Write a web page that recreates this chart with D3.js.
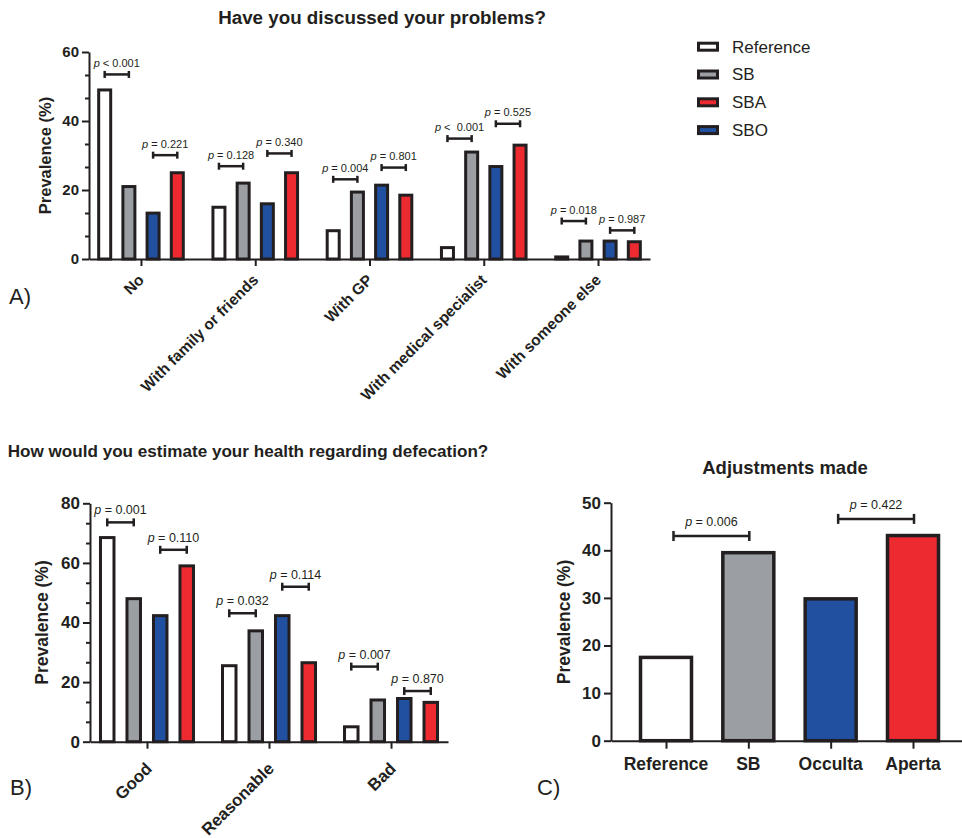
<!DOCTYPE html>
<html><head><meta charset="utf-8">
<script src="https://cdn.jsdelivr.net/npm/d3@7"></script>
<style>
body{margin:0;background:#fff}
text{font-family:"Liberation Sans",Arial,Helvetica,sans-serif;fill:#231f20;white-space:pre}
</style>
</head><body><svg id="c" width="962" height="838"></svg>
<script>
// ---------- data ----------
const seriesKeys = ["Reference","SB","SBO","SBA"];      // bar order inside a group
const legendOrder = ["Reference","SB","SBA","SBO"];
const seriesColors = {Reference:"#ffffff", SB:"#9b9ea2", SBO:"#2150a0", SBA:"#ec2a2f"};

const catsA = ["No","With family or friends","With GP","With medical specialist","With someone else"];
const refA = [49.0, 15.0, 8.2, 3.3, 0.6];
const sbA  = [21.0, 22.0, 19.4, 31.0, 5.2];
const sboA = [13.3, 16.0, 21.4, 26.8, 5.2];
const sbaA = [25.0, 25.0, 18.5, 33.0, 5.0];
const pTextA = ["< 0.001","= 0.221","= 0.128","= 0.340","= 0.004","= 0.801","<  0.001","= 0.525","= 0.018","= 0.987"];
const pYA = [53.5, 30.1, 26.9, 30.6, 23.1, 26.5, 34.9, 39.2, 11.0, 8.3];
const ticksA = [0, 20, 40, 60];

const catsB = ["Good","Reasonable","Bad"];
const refB = [68.5, 25.5, 5.0];
const sbB  = [48.0, 37.2, 14.0];
const sboB = [42.3, 42.3, 14.5];
const sbaB = [59.0, 26.5, 13.2];
const pTextB = ["= 0.001","= 0.110","= 0.032","= 0.114","= 0.007","= 0.870"];
const pYB = [73.6, 64.4, 43.1, 52.0, 25.2, 17.0];
const ticksB = [0, 20, 40, 60, 80];

const catsC = ["Reference","SB","Occulta","Aperta"];
const valsC = [17.5, 39.5, 29.8, 43.1];
const colorsC = ["#ffffff","#9b9ea2","#2150a0","#ec2a2f"];
const pTextC = ["= 0.006","= 0.422"];
const pYC = [43.0, 46.6];
const ticksC = [0, 10, 20, 30, 40, 50];

// ---------- drawing ----------
const INK = "#231f20";
const svg = d3.select("#c");
svg.append("rect").attr("width",962).attr("height",838).attr("fill","#fff");

function styleAxis(sel, fs){
  sel.select(".domain").attr("stroke",INK).attr("stroke-width",2);
  sel.selectAll(".tick line").attr("stroke",INK).attr("stroke-width",2);
  sel.selectAll(".tick text").attr("fill",INK).style("font-size",fs+"px").style("font-weight","bold")
     .style("font-family",'"Liberation Sans",Arial,sans-serif');
}

function pLabel(g, x, y, txt, fs){
  const t = g.append("text").attr("x",x).attr("y",y).attr("text-anchor","middle").style("font-size",fs+"px");
  t.append("tspan").style("font-style","italic").text("p");
  t.append("tspan").text(" " + txt);
}

function bracket(g, xa, xb, yy, cap){
  g.append("line").attr("x1",xa).attr("x2",xb).attr("y1",yy).attr("y2",yy).attr("stroke",INK).attr("stroke-width",2.5);
  [xa,xb].forEach(xx => g.append("line").attr("x1",xx).attr("x2",xx).attr("y1",yy-cap/2).attr("y2",yy+cap/2)
     .attr("stroke",INK).attr("stroke-width",2.5));
}

function drawGrouped(o){
  const g = svg.append("g");
  const x = d3.scalePoint().domain(o.cats).range(o.xr).padding(o.pad);
  const y = d3.scaleLinear().domain([0,o.max]).range(o.yr);
  const sx = d3.scaleBand().domain(seriesKeys).range([-2*o.pitch, 2*o.pitch]);
  const bc = (ci, s) => x(o.cats[ci]) + sx(s) + sx.bandwidth()/2;

  seriesKeys.forEach((s, si) => {
    g.selectAll(null).data(o.series[si]).join("rect")
      .attr("x",(d,i) => bc(i,s) - o.barW/2)
      .attr("y",d => y(d))
      .attr("width",o.barW)
      .attr("height",d => y(0)-y(d))
      .attr("fill",seriesColors[s]).attr("stroke",INK).attr("stroke-width",3);
  });

  // y axis
  const minors = d3.range(0, o.max+0.001, o.majorStep/3).filter((v,i) => i%3 !== 0);
  g.append("g").attr("transform",`translate(${o.xr[0]},0)`)
    .call(d3.axisLeft(y).tickValues(minors).tickSize(4).tickFormat(""))
    .call(s => { s.select(".domain").remove(); s.selectAll("line").attr("stroke",INK).attr("stroke-width",2); });
  g.append("g").attr("transform",`translate(${o.xr[0]},0)`)
    .call(d3.axisLeft(y).tickValues(o.ticks).tickSize(7).tickSizeOuter(0).tickPadding(3))
    .call(s => styleAxis(s, o.tickFs));
  // x axis
  g.append("g").attr("transform",`translate(0,${o.yr[0]})`)
    .call(d3.axisBottom(x).tickSize(7).tickSizeOuter(0).tickFormat(""))
    .call(s => styleAxis(s, o.tickFs));
  // rotated category labels
  g.selectAll(null).data(o.cats).join("text")
    .attr("transform", d => `translate(${x(d)+o.lab[0]},${o.yr[0]+o.lab[1]}) rotate(-45)`)
    .attr("text-anchor","end").style("font-size",o.catFs+"px").style("font-weight","bold").text(d => d);
  // y label
  g.append("text").attr("transform",`translate(${o.ylab[0]},${(o.yr[0]+o.yr[1])/2}) rotate(-90)`)
    .attr("text-anchor","middle").attr("dy","0.35em").style("font-size",o.ylabFs+"px").style("font-weight","bold")
    .text("Prevalence (%)");
  // brackets
  o.pText.forEach((t,k) => {
    const ci = Math.floor(k/2);
    const pair = k%2===0 ? ["Reference","SB"] : ["SBO","SBA"];
    const xa = bc(ci,pair[0]), xb = bc(ci,pair[1]), yy = y(o.pY[k]);
    bracket(g, xa, xb, yy, o.cap);
    pLabel(g, (xa+xb)/2, yy - o.pGap, t, o.pFs);
  });
}

// Panel A
drawGrouped({cats:catsA, series:[refA,sbA,sboA,sbaA], xr:[89,650], pad:0.455, yr:[259,52], max:60,
  ticks:ticksA, majorStep:20, pitch:24.2, barW:12, tickFs:15, catFs:15.5, lab:[4,22],
  ylab:[45], ylabFs:16.5, pText:pTextA, pY:pYA, pFs:11, pGap:7.5, cap:7});
// Panel B
drawGrouped({cats:catsB, series:[refB,sbB,sboB,sbaB], xr:[90,448], pad:0.467, yr:[741.7,503.3], max:80,
  ticks:ticksB, majorStep:20, pitch:26.5, barW:13.5, tickFs:17, catFs:16.8, lab:[6,28],
  ylab:[42], ylabFs:17.5, pText:pTextB, pY:pYB, pFs:12.5, pGap:8, cap:8});

// Panel C
(function(){
  const g = svg.append("g");
  const x = d3.scalePoint().domain(catsC).range([611,968]).padding(0.668);
  const y = d3.scaleLinear().domain([0,50]).range([740.7,502.7]);
  g.selectAll(null).data(valsC).join("rect")
    .attr("x",(d,i) => x(catsC[i]) - 25.5).attr("y",d => y(d)).attr("width",51)
    .attr("height",d => y(0)-y(d)).attr("fill",(d,i) => colorsC[i]).attr("stroke",INK).attr("stroke-width",3.5);
  g.append("g").attr("transform","translate(611,0)")
    .call(d3.axisLeft(y).tickValues(ticksC).tickSize(7).tickSizeOuter(0).tickPadding(3))
    .call(s => styleAxis(s, 17));
  g.append("g").attr("transform","translate(0,740.7)")
    .call(d3.axisBottom(x).tickSize(8).tickSizeOuter(0).tickFormat(""))
    .call(s => styleAxis(s, 17));
  g.selectAll(null).data(catsC).join("text")
    .attr("x",d => x(d)).attr("y",770).attr("text-anchor","middle")
    .style("font-size","17.5px").style("font-weight","bold").text(d => d);
  g.append("text").attr("transform",`translate(564,622) rotate(-90)`)
    .attr("text-anchor","middle").attr("dy","0.35em").style("font-size","17.5px").style("font-weight","bold")
    .text("Prevalence (%)");
  const pairs = [[0,1],[2,3]];
  pTextC.forEach((t,k) => {
    const xa = x(catsC[pairs[k][0]]) + 7.5, xb = x(catsC[pairs[k][1]]) + 1, yy = y(pYC[k]);
    bracket(g, xa, xb, yy, 10);
    pLabel(g, (xa+xb)/2, yy - 10, t, 12.5);
  });
})();

// Titles
svg.append("text").attr("x",382).attr("y",24).attr("text-anchor","middle")
  .style("font-size","18.8px").style("font-weight","bold").text("Have you discussed your problems?");
svg.append("text").attr("x",248).attr("y",457).attr("text-anchor","middle")
  .style("font-size","17.1px").style("font-weight","bold").text("How would you estimate your health regarding defecation?");
svg.append("text").attr("x",785).attr("y",474).attr("text-anchor","middle")
  .style("font-size","18.5px").style("font-weight","bold").text("Adjustments made");

// Panel letters
[["A)",9,304],["B)",10,795],["C)",537,795]].forEach(d =>
  svg.append("text").attr("x",d[1]).attr("y",d[2]).style("font-size","22px").text(d[0]));

// Legend
const lg = svg.append("g");
legendOrder.forEach((s,i) => {
  const cy = 46.7 + i*27.8;
  lg.append("rect").attr("x",698.5).attr("y",cy-3.5).attr("width",19).attr("height",7)
    .attr("fill",seriesColors[s]).attr("stroke",INK).attr("stroke-width",3);
  lg.append("text").attr("x",732).attr("y",cy).attr("dy","0.35em").style("font-size","17px").text(s);
});
</script>
</body></html>
